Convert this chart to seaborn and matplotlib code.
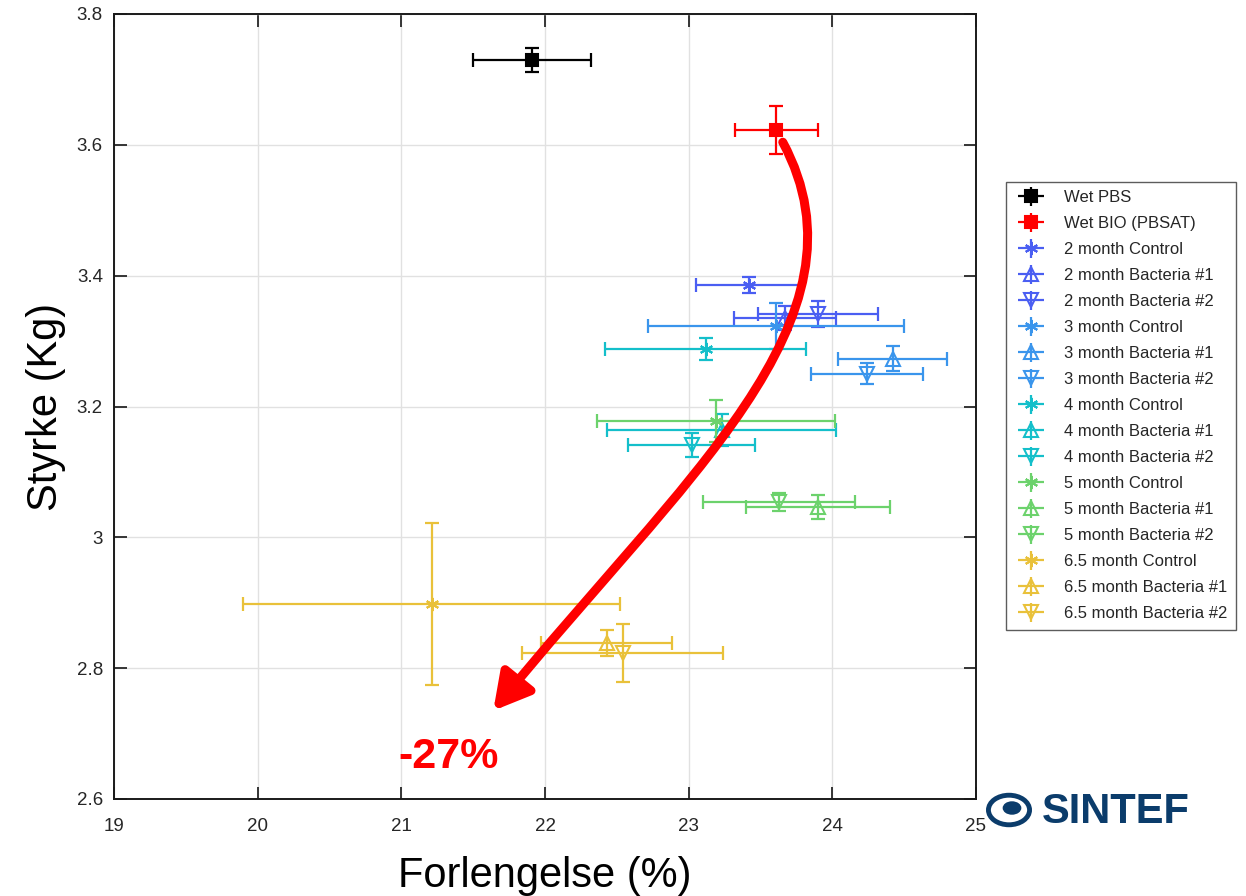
import matplotlib
matplotlib.use('Agg')
import matplotlib.pyplot as plt
import seaborn as sns
from matplotlib.path import Path
from matplotlib.patches import FancyArrowPatch, Circle
from matplotlib.legend_handler import HandlerErrorbar

# Data: elongation (%) vs strength (kg), with x/y errors
labels = ['Wet PBS', 'Wet BIO (PBSAT)',
          '2 month Control', '2 month Bacteria #1', '2 month Bacteria #2',
          '3 month Control', '3 month Bacteria #1', '3 month Bacteria #2',
          '4 month Control', '4 month Bacteria #1', '4 month Bacteria #2',
          '5 month Control', '5 month Bacteria #1', '5 month Bacteria #2',
          '6.5 month Control', '6.5 month Bacteria #1', '6.5 month Bacteria #2']
elong = [21.91, 23.61,
         23.42, 23.67, 23.90,
         23.61, 24.42, 24.24,
         23.12, 23.23, 23.02,
         23.19, 23.90, 23.63,
         21.21, 22.43, 22.54]
elong_err = [0.41, 0.29,
             0.37, 0.355, 0.42,
             0.89, 0.38, 0.39,
             0.70, 0.795, 0.445,
             0.826, 0.50, 0.53,
             1.31, 0.455, 0.70]
strength = [3.730, 3.623,
            3.386, 3.335, 3.342,
            3.323, 3.273, 3.250,
            3.288, 3.164, 3.141,
            3.178, 3.046, 3.054,
            2.898, 2.838, 2.823]
strength_err = [0.018, 0.037,
                0.012, 0.018, 0.020,
                0.035, 0.019, 0.016,
                0.017, 0.025, 0.018,
                0.032, 0.018, 0.014,
                0.124, 0.020, 0.044]

group_colors = ['#000000', '#ff0000', '#4a5ef2', '#3a95ec', '#14bfca', '#6cd26c', '#e9c13a']
asterisk = (6, 2, 0)
markers = ['s', 's'] + [asterisk, '^', 'v'] * 5
colors = group_colors[:2] + [c for c in group_colors[2:] for _ in range(3)]

sns.set_style('whitegrid')
plt.rcParams['font.family'] = ['Liberation Sans', 'DejaVu Sans']

fig = plt.figure(figsize=(12.46, 8.96), dpi=100)
ax = fig.add_axes([114 / 1246, 1 - 799 / 896, (976 - 114) / 1246, (799 - 14) / 896])

leg_handles = []
for i, lab in enumerate(labels):
    filled = i < 2
    ax.errorbar(elong[i], strength[i], xerr=elong_err[i], yerr=strength_err[i],
                fmt='none', ecolor=colors[i], elinewidth=1.6, capsize=5,
                capthick=1.6)
    ax.plot(elong[i], strength[i], linestyle='none', marker=markers[i],
            markersize=8 if filled else 9.5,
            markerfacecolor=colors[i] if filled else 'none',
            markeredgecolor=colors[i], markeredgewidth=1.5)
    # legend proxy (no data)
    h = ax.errorbar([], [], xerr=[], yerr=[], color=colors[i], marker=markers[i],
                    markersize=8 if filled else 9.5, linestyle='none',
                    markerfacecolor=colors[i] if filled else 'none',
                    markeredgecolor=colors[i], markeredgewidth=1.5,
                    elinewidth=1.6, capsize=4, capthick=1.6)
    leg_handles.append(h)

leg = fig.legend(leg_handles, labels, loc='upper left',
                 bbox_to_anchor=(1006 / 1246, 1 - 182 / 896), fontsize=12,
                 frameon=True, fancybox=False, edgecolor='#333333',
                 handlelength=2.0, labelspacing=0.66, borderpad=0.5,
                 handletextpad=1.0, borderaxespad=0,
                 handler_map={type(leg_handles[0]): HandlerErrorbar(xerr_size=0.8, yerr_size=0.55)})
leg.get_frame().set_linewidth(1.0)

ax.set_xlim(19, 25)
ax.set_ylim(2.6, 3.8)
ax.set_xticks([19, 20, 21, 22, 23, 24, 25])
ax.set_xticklabels(['19', '20', '21', '22', '23', '24', '25'])
ax.set_yticks([2.6, 2.8, 3.0, 3.2, 3.4, 3.6, 3.8])
ax.set_yticklabels(['2.6', '2.8', '3', '3.2', '3.4', '3.6', '3.8'])
ax.tick_params(axis='both', direction='in', length=9, width=1.3, labelsize=13.5,
               colors='#262626', top=True, right=True, bottom=True, left=True)
ax.tick_params(axis='x', pad=14)
ax.tick_params(axis='y', pad=8)
ax.grid(True, color='#e1e1e1', linewidth=1.0)
for s in ax.spines.values():
    s.set_color('#1a1a1a')
    s.set_linewidth(1.4)

ax.set_xlabel('Forlengelse (%)', fontsize=30, labelpad=15, color='black')
ax.set_ylabel('Styrke (Kg)', fontsize=30, labelpad=8, color='black')

# red curved arrow
verts = [(23.655, 3.604), (24.32, 3.332), (22.94, 3.087), (21.64, 2.735)]
codes = [Path.MOVETO, Path.CURVE4, Path.CURVE4, Path.CURVE4]
arrow = FancyArrowPatch(path=Path(verts, codes), arrowstyle='-|>,head_length=1.8,head_width=1.0',
                        color='#ff0000', linewidth=6.5, mutation_scale=12, zorder=5)
ax.add_patch(arrow)
ax.text(21.33, 2.664, '-27%', color='#ff0000', fontsize=31, fontweight='bold',
        ha='center', va='center', zorder=6)

# SINTEF mark
logo_blue = '#0b3c6b'
fig.patches.append(Circle((1009 / 1246, 1 - 810 / 896), 0.0165, transform=fig.transFigure,
                          facecolor='none', edgecolor=logo_blue, linewidth=3.5))
fig.patches.append(Circle((1012 / 1246, 1 - 808 / 896), 0.0075, transform=fig.transFigure,
                          facecolor=logo_blue, edgecolor='none'))
fig.text(1042 / 1246, 1 - 812 / 896, 'SINTEF', color=logo_blue, fontsize=30,
         fontweight='bold', ha='left', va='center')

fig.savefig('out.png', dpi=100)
